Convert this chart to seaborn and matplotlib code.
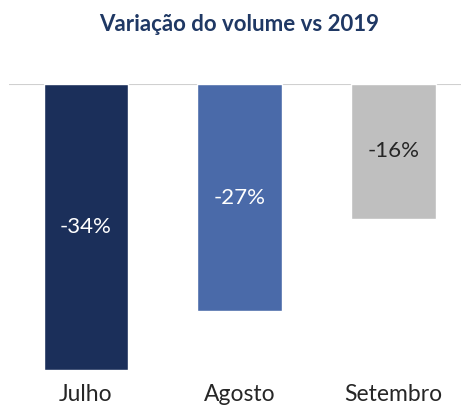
import pandas as pd
import seaborn as sns
import matplotlib.pyplot as plt

# dados
meses = ['Julho', 'Agosto', 'Setembro']
variacao = [-34, -27, -16]
cores = ['#1b2f5a', '#4a6aa9', '#bfbfbf']
cores_texto = ['white', 'white', '#262626']

df = pd.DataFrame({'mes': meses, 'var': variacao})

sns.set_style('white')
plt.rcParams['font.family'] = ['Lato', 'DejaVu Sans']

fig = plt.figure(figsize=(4.61, 4.08), dpi=100)
ax = fig.add_axes([9 / 461, 1 - 370 / 408, 452 / 461, 286 / 408])

sns.barplot(data=df, x='mes', y='var', hue='mes', palette=cores, width=0.55,
            legend=False, ax=ax, saturation=1)

for cont, c, v in zip(ax.containers, cores_texto, variacao):
    ax.bar_label(cont, labels=[f'{v}%'], label_type='center', color=c, fontsize=16)

ax.set_xlim(-0.5, 2.44)
ax.set_ylim(-34, 0)
ax.axhline(0, color='#d0d0d0', lw=1.5, zorder=0)
for s in ax.spines.values():
    s.set_visible(False)
ax.set_yticks([])
ax.set_xlabel('')
ax.set_ylabel('')
ax.tick_params(axis='x', length=0, pad=10, labelsize=16.5, labelcolor='#262626')

fig.text(0.518, 0.94, 'Variação do volume vs 2019', ha='center', va='center',
         fontsize=16, fontweight='bold', color='#1f3864')

fig.savefig('out.png', dpi=100)
